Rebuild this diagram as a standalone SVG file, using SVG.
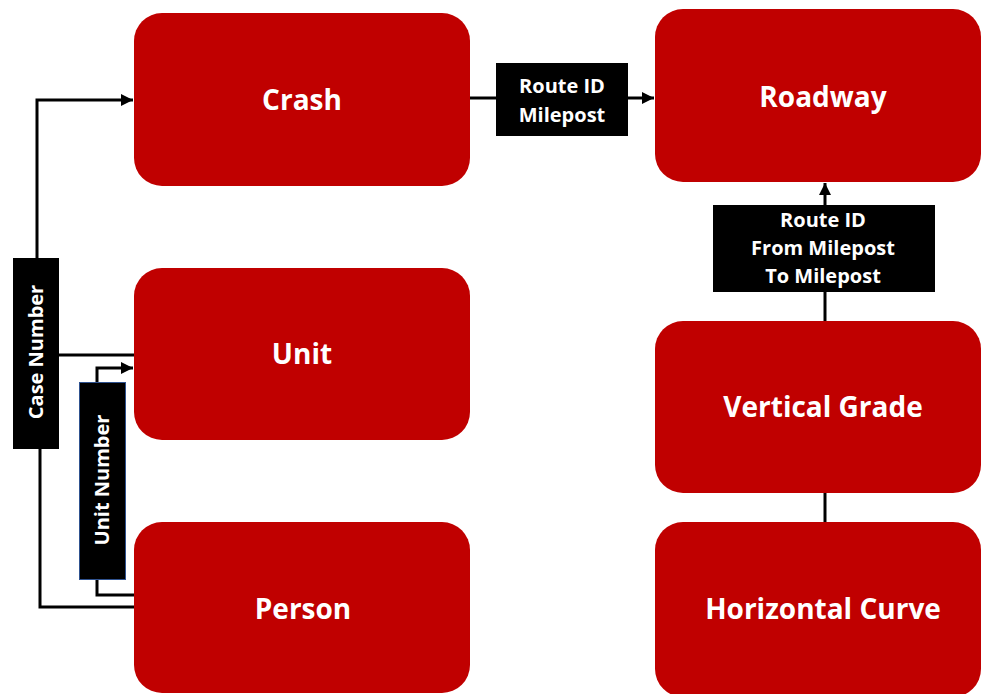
<svg xmlns="http://www.w3.org/2000/svg" width="981" height="694" viewBox="0 0 981 694">
<style>
.node rect{fill:#C00000}
.node text{fill:#fff;font-family:"Open Sans","Noto Sans",sans-serif;font-weight:bold;font-size:28px;text-anchor:middle}
.lbl rect{fill:#000}
.lbl text{fill:#fff;font-family:"Open Sans","Noto Sans",sans-serif;font-weight:bold;font-size:20px;text-anchor:middle}
.conn path{fill:none;stroke:#000;stroke-width:3}
</style>
<defs>
<marker id="arr" markerUnits="userSpaceOnUse" markerWidth="12" markerHeight="12" viewBox="0 0 12 12" refX="12" refY="6" orient="auto">
<path d="M0,0 L12,6 L0,12 Z" fill="#000"/>
</marker>
</defs>
<rect width="981" height="694" fill="#fff"/>
<g id="connectors" class="conn">
<path d="M37,258 V100 H133" marker-end="url(#arr)"/>
<path d="M59,355 H134"/>
<path d="M40,449 V607 H134"/>
<path d="M97,382 V368 H133" marker-end="url(#arr)"/>
<path d="M97,580 V595 H134"/>
<path d="M470,98 H497"/>
<path d="M628,98 H654" marker-end="url(#arr)"/>
<path d="M825,321 V183" marker-end="url(#arr)"/>
<path d="M825,522 V493"/>
</g>
<g id="crash" class="node"><rect x="134" y="13" width="336" height="173" rx="28"/><text x="302" y="110">Crash</text></g>
<g id="unit" class="node"><rect x="134" y="268" width="336" height="172" rx="28"/><text x="302" y="364">Unit</text></g>
<g id="person" class="node"><rect x="134" y="522" width="336" height="171" rx="28"/><text x="303" y="619">Person</text></g>
<g id="roadway" class="node"><rect x="655" y="9" width="326" height="173" rx="28"/><text x="823" y="107">Roadway</text></g>
<g id="vertical-grade" class="node"><rect x="655" y="321" width="326" height="172" rx="28"/><text x="823" y="417">Vertical Grade</text></g>
<g id="horizontal-curve" class="node"><rect x="655" y="522" width="326" height="175" rx="28"/><text x="823" y="619">Horizontal Curve</text></g>
<g id="label-case-number" class="lbl"><rect x="13" y="258" width="46" height="191"/><text transform="translate(43,352) rotate(-90)" x="0" y="0">Case Number</text></g>
<g id="label-unit-number" class="lbl"><rect x="79.5" y="382.5" width="46" height="197" stroke="#2F528F" stroke-width="1"/><text transform="translate(109,480) rotate(-90)" x="0" y="0">Unit Number</text></g>
<g id="label-route-milepost" class="lbl"><rect x="496" y="63" width="132" height="73"/><text x="562" y="93">Route ID</text><text x="562" y="122">Milepost</text></g>
<g id="label-route-from-to" class="lbl"><rect x="713" y="205" width="222" height="87"/><text x="823" y="227">Route ID</text><text x="823" y="255">From Milepost</text><text x="823" y="283">To Milepost</text></g>
</svg>
